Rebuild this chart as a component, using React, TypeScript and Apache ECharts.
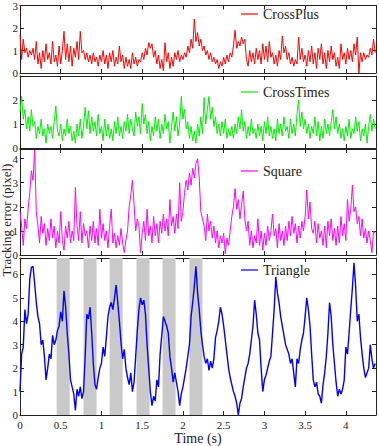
import React, { useEffect, useRef } from 'react';
import * as echarts from 'echarts';

const DT = 0.02;
const X_MAX = 4.37;

const seriesNames = ['CrossPlus', 'CrossTimes', 'Square', 'Triangle'];
const yMax = [3, 3, 4.4, 6.7];

const crossPlus = [
  1.7, 0.6, 1.5, 0.9, 1.1,
  0.7, 1.0, 0.8, 1.1, 0.6,
  1.4, 0.4, 0.9, 0.2, 1.0,
  0.5, 1.3, 0.6, 0.9, 0.4,
  1.4, 0.5, 0.8, 0.3, 1.2,
  0.4, 1.0, 1.85, 0.6, 1.3,
  0.5, 1.2, 0.3, 1.1, 0.7,
  1.4, 0.6, 1.85, 0.9, 1.0,
  0.6, 0.9, 0.5, 0.8, 0.4,
  0.9, 0.5, 0.7, 0.3, 0.8,
  0.5, 1.0, 0.4, 0.8, 0.2,
  0.9, 0.5, 1.0, 0.3, 0.7,
  0.4, 1.2, 0.5, 0.8, 0.2,
  0.7, 0.3, 0.6, 0.2, 0.9,
  0.4, 0.7, 0.3, 0.6, 0.5,
  0.9, 0.6, 1.1, 0.8, 1.35,
  1.1, 1.3, 0.7, 1.0, 0.4,
  0.8, 0.2, 0.6, 0.1, 1.35,
  0.5, 0.9, 0.2, 0.7, 0.3,
  0.9, 0.6, 1.0, 0.5, 0.8,
  0.6, 0.9, 0.7, 1.2, 0.9,
  1.5, 1.1, 2.4, 1.4, 1.8,
  1.2, 1.5, 1.0, 1.2, 0.8,
  1.0, 0.6, 0.9, 0.5, 0.7,
  0.4, 0.6, 0.2, 0.5, 0.3,
  0.7, 0.4, 0.8, 0.5, 0.9,
  0.7, 1.2, 1.9, 1.1, 1.4,
  1.2, 1.6, 1.3, 1.5, 0.6,
  0.3, 1.0, 0.5, 0.9, 0.4,
  1.1, 0.6, 1.0, 0.4, 1.3,
  0.6, 1.2, 0.5, 1.4, 0.7,
  0.9, 0.4, 0.8, 0.3, 1.0,
  0.6, 1.65, 0.9, 1.2, 0.6,
  0.9, 0.4, 0.7, 0.3, 0.6,
  0.4, 1.6, 0.6, 1.1, 0.5,
  0.8, 0.3, 1.0, 0.5, 1.2,
  0.4, 0.9, 0.2, 1.1, 0.6,
  1.3, 0.4, 0.9, 0.2, 1.0,
  0.5, 1.2, 0.6, 0.9, 0.3,
  0.7, 0.2, 1.3, 0.6, 0.9,
  0.4, 1.1, 0.6, 1.0, 0.5,
  1.3, 0.8, 1.6, 0.0, 0.9,
  0.5, 0.9, 0.6, 0.8, 0.7,
  1.1, 0.8, 1.5, 0.9,
];

const crossTimes = [
  1.5, 2.15, 1.2, 1.6, 0.8,
  1.3, 0.7, 1.6, 0.9, 1.1,
  0.4, 0.9, 0.6, 1.2, 0.5,
  0.8, 0.2, 1.0, 0.6, 0.9,
  0.4, 1.1, 1.75, 0.7, 0.5,
  1.0, 0.3, 0.8, 0.5, 1.2,
  0.6, 0.9, 0.3, 0.7, 0.2,
  1.0, 0.5, 1.2, 0.4, 0.9,
  1.7, 0.8, 1.55, 0.6, 1.3,
  0.7, 1.1, 0.5, 1.4, 0.6,
  0.9, 0.3, 1.2, 0.5, 1.0,
  0.4, 0.8, 0.3, 1.1, 0.6,
  1.3, 0.5, 0.9, 0.4, 1.1,
  0.7, 1.4, 0.6, 1.2, 0.8,
  0.5, 1.5, 0.9, 1.3, 0.6,
  1.85, 1.0, 1.4, 0.6, 1.1,
  0.3, 0.9, 0.5, 1.3, 0.7,
  1.2, 0.4, 1.0, 0.6, 1.4,
  0.8, 1.1, 0.2, 0.9, 1.5,
  0.7, 1.3, 0.5, 1.0, 2.15,
  1.2, 1.6, 0.8, 1.1, 0.4,
  0.9, 0.3, 0.7, 0.2, 1.0,
  0.5, 1.3, 0.6, 2.1, 1.0,
  1.6, 2.15, 1.2, 1.7, 0.9,
  1.3, 0.6, 1.0, 0.5, 1.1,
  0.6, 1.2, 0.4, 0.8, 0.5,
  0.9, 0.4, 1.0, 0.6, 1.3,
  0.8, 1.6, 0.7, 1.1, 0.4,
  0.9, 0.5, 1.2, 0.6, 0.8,
  0.4, 1.0, 0.5, 0.9, 0.3,
  1.1, 0.6, 1.3, 0.5, 0.9,
  0.4, 0.8, 0.3, 1.2, 0.6,
  1.0, 0.5, 1.3, 0.7, 0.9,
  0.4, 1.2, 0.6, 1.0, 0.5,
  1.4, 2.0, 0.9, 1.5, 0.8,
  1.2, 0.6, 1.0, 0.4, 0.9,
  0.6, 1.3, 0.5, 1.1, 0.3,
  0.9, 0.4, 1.2, 0.6, 1.0,
  0.5, 1.1, 1.6, 0.8, 1.3,
  0.6, 1.0, 0.4, 0.8, 0.3,
  0.9, 0.5, 1.2, 0.4, 0.8,
  0.6, 1.3, 0.7, 1.1, 0.3,
  0.8, 0.5, 1.0, 0.2, 0.9,
  1.4, 0.7, 1.2, 0.8,
];

const square = [
  1.8, 1.2, 0.4, 1.5, 1.1,
  1.9, 2.6, 3.5, 3.1, 4.35,
  1.8, 1.2, 0.5, 1.6, 0.9,
  1.3, 0.4, 1.1, 0.6, 1.5,
  0.7, 1.2, 0.3, 1.0, 0.5,
  1.8, 0.6, 0.2, 1.2, 0.7,
  1.4, 0.5, 1.0, 0.6, 2.8,
  1.2, 0.6, 1.8, 0.5, 1.3,
  0.8, 1.0, 0.3, 1.2, 0.6,
  1.4, 0.5, 1.1, 0.4, 1.9,
  0.7, 1.3, 0.6, 1.0, 0.3,
  1.2, 1.9, 0.5, 0.9, 0.3,
  0.8, 0.4, 1.1, 0.5, 0.1,
  0.6, 1.0, 2.0, 2.5, 3.1,
  2.1, 1.0, 1.5, 1.2, 0.1,
  0.9, 1.4, 0.6, 1.9, 0.8,
  1.2, 0.5, 1.6, 0.8, 1.3,
  0.5, 1.4, 0.9, 1.7, 1.0,
  1.5, 0.8, 2.3, 1.2, 1.6,
  0.9, 1.7, 1.1, 3.0, 1.4,
  1.8, 2.6, 3.1, 2.7, 3.4,
  2.9, 3.6, 3.2, 3.8, 4.0,
  3.2, 1.8, 1.5, 1.2, 0.6,
  1.7, 1.0, 1.4, 0.7, 1.2,
  0.5, 1.0, 0.3, 0.8, 0.5,
  0.9, 0.05, 0.7, 0.4, 1.0,
  1.6, 2.0, 2.75, 1.9, 2.3,
  1.5, 2.1, 2.65, 1.5, 1.0,
  1.4, 0.4, 1.0, 0.3, 0.8,
  0.5, 1.5, 0.4, 1.0, 0.2,
  0.9, 0.4, 1.2, 0.6, 1.0,
  1.7, 0.8, 1.1, 0.3, 1.3,
  0.6, 1.0, 0.4, 1.2, 0.6,
  1.4, 0.8, 1.6, 0.9, 1.3,
  0.5, 1.2, 0.7, 1.4, 1.0,
  1.6, 2.7, 1.5, 2.2, 1.1,
  0.9, 1.4, 0.5, 1.3, 0.7,
  1.0, 0.4, 1.2, 0.3, 1.4,
  0.8, 1.5, 0.6, 1.1, 0.4,
  1.2, 0.5, 1.6, 0.8, 1.3,
  0.6, 2.3, 1.4, 1.9, 2.9,
  1.8, 2.0, 1.3, 1.6, 0.8,
  1.5, 0.7, 1.1, 0.5, 1.0,
  0.6, 0.1, 1.0, 0.9,
];

const triangle = [
  1.0, 2.6, 2.9, 4.5, 3.9,
  4.3, 5.8, 6.3, 6.35, 5.6,
  4.8, 4.2, 3.9, 3.0, 3.2,
  2.5, 1.5, 2.0, 2.6, 2.4,
  3.4, 3.0, 3.2, 3.6, 3.8,
  4.4, 4.0, 5.3, 4.6, 3.5,
  2.6, 1.5, 1.2, 0.9, 0.2,
  1.1, 0.8, 1.2, 0.7, 1.0,
  2.5, 4.3, 4.1, 4.6, 3.5,
  2.2, 1.3, 1.1, 1.6, 2.0,
  2.2, 2.9, 2.5, 3.3, 4.2,
  4.6, 4.8, 4.5, 5.0, 5.55,
  4.8, 4.0, 3.1, 2.4, 2.8,
  2.0, 1.6, 1.3, 1.8, 1.0,
  1.4, 2.5, 3.6, 4.5, 5.0,
  4.7, 4.9, 4.3, 3.0, 2.0,
  1.0, 0.4, 0.8, 0.6, 1.5,
  1.2, 2.6, 3.4, 4.2, 4.0,
  3.8, 3.5, 2.5, 2.0, 1.4,
  1.8, 1.4, 1.0, 0.4, 0.9,
  1.2, 1.6, 2.0, 2.5, 3.0,
  4.2, 4.8, 5.5, 6.35, 5.2,
  4.5, 3.6, 3.0, 2.5, 2.2,
  2.4, 1.9, 2.3, 2.0, 2.4,
  3.3, 3.6, 4.0, 4.6, 4.3,
  3.8, 3.2, 2.6, 2.0, 1.6,
  1.3, 1.0, 0.8, 0.5, 0.0,
  0.5, 0.7, 1.2, 1.6, 2.0,
  2.2, 2.6, 3.2, 3.8, 4.9,
  4.3, 3.5, 3.2, 2.0, 1.0,
  1.5, 1.7, 2.0, 2.3, 2.5,
  3.5, 4.5, 5.9, 5.2, 4.8,
  4.2, 3.8, 3.4, 3.0, 2.8,
  2.6, 2.2, 2.4, 1.8, 1.2,
  2.4, 2.2, 2.8, 3.2, 3.5,
  4.2, 5.0, 4.5, 3.8, 2.6,
  1.5, 1.2, 1.4, 0.9, 0.8,
  0.5, 1.3, 1.8, 2.5, 3.5,
  4.8, 4.2, 3.0, 2.2, 1.4,
  0.8, 1.1, 0.9, 1.1, 1.5,
  2.9, 2.6, 3.5, 4.5, 5.4,
  6.5, 5.5, 4.0, 4.3, 3.3,
  2.6, 2.0, 1.6, 1.8, 2.0,
  3.0, 2.4, 2.0, 2.2,
];

const shadedBands = [
  [0.45, 0.61],
  [0.78, 0.94],
  [1.1, 1.26],
  [1.43, 1.59],
  [1.75, 1.91],
  [2.08, 2.24],
];

const allValues = [crossPlus, crossTimes, square, triangle];
const colors = ['#ff0000', '#00ee00', '#ff00ff', '#0000ff'];

const FONT = '"Liberation Serif", "Times New Roman", serif';
const INK = '#222';

export default function App() {
  const ref = useRef<HTMLDivElement>(null);

  useEffect(() => {
    if (!ref.current) return;
    const chart = echarts.init(ref.current, undefined, { renderer: 'svg' });

    const grids = [
      { left: 20, top: 2, width: 356, height: 71 },
      { left: 20, top: 76, width: 356, height: 72 },
      { left: 20, top: 149, width: 356, height: 106 },
      { left: 20, top: 258, width: 356, height: 161 },
    ];
    const legendTops = [7, 85, 164, 263];

    const xAxis: any[] = [];
    const yAxis: any[] = [];
    const series: any[] = [];
    const legend: any[] = [];

    grids.forEach((_, i) => {
      const axisLine = { show: true, onZero: false, lineStyle: { color: INK, width: 1 } };
      const axisTick = { show: true, inside: true, length: 4, lineStyle: { color: INK, width: 1 } };
      xAxis.push({
        gridIndex: i,
        type: 'value',
        min: 0,
        max: X_MAX,
        interval: 0.5,
        position: 'bottom',
        axisLine,
        axisTick,
        splitLine: { show: false },
        axisLabel: {
          show: i === 3,
          showMaxLabel: false,
          fontFamily: FONT,
          fontSize: 11,
          color: INK,
          margin: 4,
        },
        name: i === 3 ? 'Time (s)' : '',
        nameLocation: 'middle',
        nameGap: 16,
        nameTextStyle: { fontFamily: FONT, fontSize: 14, color: INK },
      });
      xAxis.push({
        gridIndex: i,
        type: 'value',
        min: 0,
        max: X_MAX,
        interval: 0.5,
        position: 'top',
        axisLine,
        axisTick,
        splitLine: { show: false },
        axisLabel: { show: false },
      });
      yAxis.push({
        gridIndex: i,
        type: 'value',
        min: 0,
        max: yMax[i],
        interval: 1,
        position: 'left',
        axisLine,
        axisTick,
        splitLine: { show: false },
        axisLabel: {
          showMaxLabel: i === 0,
          fontFamily: FONT,
          fontSize: 11,
          color: INK,
          margin: 2,
        },
      });
      yAxis.push({
        gridIndex: i,
        type: 'value',
        min: 0,
        max: yMax[i],
        interval: 1,
        position: 'right',
        axisLine,
        axisTick,
        splitLine: { show: false },
        axisLabel: { show: false },
      });

      const s: any = {
        type: 'line',
        name: seriesNames[i],
        xAxisIndex: 2 * i,
        yAxisIndex: 2 * i,
        data: allValues[i].map((v, k) => [Math.round(k * DT * 100) / 100, v]),
        symbol: 'none',
        silent: true,
        lineStyle: { color: colors[i], width: i === 3 ? 1.4 : 1 },
        itemStyle: { color: colors[i] },
      };
      if (i === 3) {
        s.markArea = {
          silent: true,
          itemStyle: { color: '#c9c9c9' },
          data: shadedBands.map(([a, b]) => [{ xAxis: a }, { xAxis: b }]),
        };
      }
      series.push(s);

      legend.push({
        data: [seriesNames[i]],
        left: 241,
        top: legendTops[i],
        padding: 0,
        icon: 'rect',
        itemWidth: 17,
        itemHeight: 1.2,
        selectedMode: false,
        textStyle: { fontFamily: FONT, fontSize: 14, color: INK },
      });
    });

    chart.setOption({
      animation: false,
      backgroundColor: '#fff',
      grid: grids,
      xAxis,
      yAxis,
      series,
      legend,
      graphic: [
        {
          type: 'text',
          x: 6,
          y: 220,
          rotation: Math.PI / 2,
          style: {
            text: 'Tracking error (pixel)',
            font: `13px ${FONT}`,
            fill: INK,
            align: 'center',
            verticalAlign: 'middle',
          },
        },
      ],
    });

    return () => chart.dispose();
  }, []);

  return (
    <div
      ref={ref}
      style={{ position: 'absolute', left: 0, top: 0, width: 379, height: 446 }}
    />
  );
}
